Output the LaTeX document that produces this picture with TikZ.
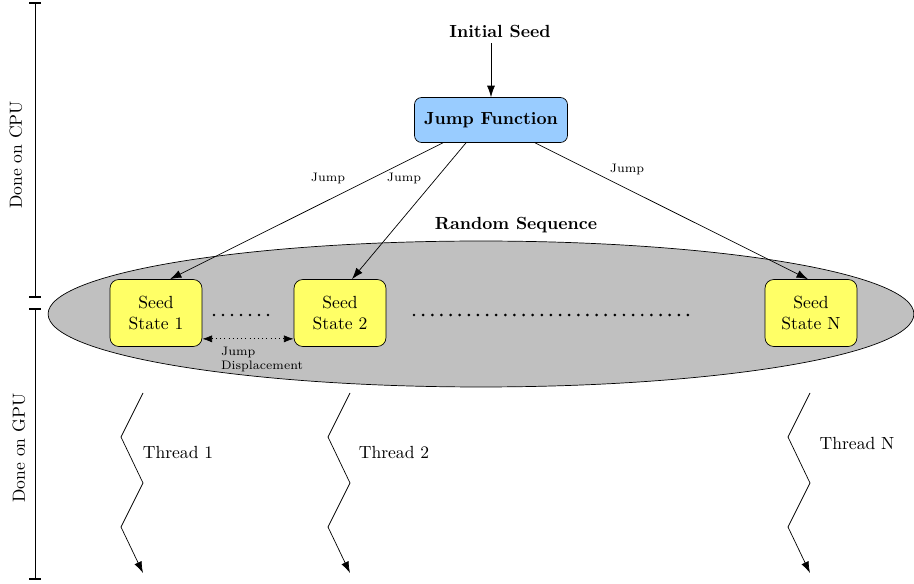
\documentclass[tikz,border=0pt]{standalone}
\usetikzlibrary{shapes, arrows, arrows.meta, positioning, calc}
\colorlet{drawColor}{black}
\definecolor{funcColor}{HTML}{99CCFF}
\definecolor{seedColor}{HTML}{FFFF66}
\definecolor{seqColor}{HTML}{C0C0C0}
\tikzstyle{func}=[rectangle, rounded corners=4pt, align=center, draw=drawColor,
fill=funcColor, minimum width=3.06cm, minimum height=0.9cm, font=\bfseries]
\tikzstyle{seed}=[rectangle, rounded corners=5pt, align=center, draw=drawColor,
fill=seedColor, minimum width=1.84cm, minimum height=1.34cm, inner sep=1pt]
\tikzstyle{seq}=[ellipse, draw=drawColor, fill=seqColor, minimum width=17.32cm,
minimum height=2.92cm, inner sep=0pt]
\tikzstyle{title}=[font=\bfseries]
\tikzstyle{jumpLabel}=[font=\scriptsize]
\tikzstyle{arrow}=[-{Latex[length=6.5pt,width=4.5pt]}, draw=black]
\tikzstyle{dispArrow}=[{Latex[length=5.5pt,width=4pt]}-{Latex[length=5.5pt,width=4pt]}, dotted, draw=black]
\tikzstyle{bracket}=[thin, draw=black]
\tikzstyle{dot}=[fill=black]

\begin{document}
\begin{tikzpicture}[x=0.02cm, y=-0.02cm]
    \useasboundingbox (0,0) rectangle (914,584);
    % CPU / GPU brackets
    \coordinate (cpuTop) at (35,3);
    \coordinate (cpuBottom) at (35,297);
    \coordinate (gpuTop) at (35,309);
    \coordinate (gpuBottom) at (35,579);
    \draw [bracket] (cpuTop) -- (cpuBottom);
    \draw [bracket] (gpuTop) -- (gpuBottom);
    \foreach \c in {cpuTop, cpuBottom, gpuTop, gpuBottom}
      \draw [bracket, line width=0.8pt] ($(\c)+(-6,0)$) -- ($(\c)+(6,0)$);
    \node (cpuLabel) [rotate=90] at (16,155) {Done on CPU};
    \node (gpuLabel) [rotate=90] at (19,448) {Done on GPU};

    % random sequence
    \node (randSeq) [seq] at (481,314) {};
    \node (randSeqLabel) [title] at (516,225) {Random Sequence};

    \node (initSeed) [title] at (500,31) {Initial Seed};
    \node (jumpFunc) [func] at (491,120) {Jump Function};
    \draw [arrow] (jumpFunc.north |- initSeed.south) -- (jumpFunc.north);

    \node (seed1) [seed] at (156,313) {Seed\\State 1};
    \node (seed2) [seed] at (340,313) {Seed\\State 2};
    \node (seedN) [seed] at (811,313) {Seed\\State N};

    \draw [arrow] ([xshift=-0.96cm]jumpFunc.south) -- ([xshift=0.28cm]seed1.north);
    \draw [arrow] ([xshift=-0.5cm]jumpFunc.south) -- ([xshift=0.24cm]seed2.north);
    \draw [arrow] ([xshift=0.88cm]jumpFunc.south) -- ([xshift=-0.06cm]seedN.north);
    \node (jump1) [jumpLabel] at (328,178) {Jump};
    \node (jump2) [jumpLabel] at (404,178) {Jump};
    \node (jumpN) [jumpLabel] at (627,169) {Jump};

    % dots between the states
    \foreach \i in {0,...,6}
      \fill [dot] (214+\i*9,315) circle (0.85pt);
    \foreach \i in {0,...,30}
      \fill [dot] (414+\i*9.13,315) circle (0.85pt);

    \draw [dispArrow] ([yshift=0.16cm]seed1.south east) -- ([yshift=0.16cm]seed2.south west);
    \node (dispLabel) [jumpLabel, align=left, anchor=north west, inner sep=1pt] at (219,345) {Jump\\Displacement};

    % threads
    \foreach \name/\x/\lx/\ly/\txt in {t1/143/178/453/Thread 1, t2/350/394/453/Thread 2, tN/810/857/444/Thread N} {
      \coordinate (\name Start) at (\x,393);
      \draw [arrow] (\name Start) -- ++(-22,44) -- ++(22,46) -- ++(-22,44) -- ++(22,46);
      \node (\name Label) at (\lx,\ly) {\txt};
    }
\end{tikzpicture}
\end{document}
